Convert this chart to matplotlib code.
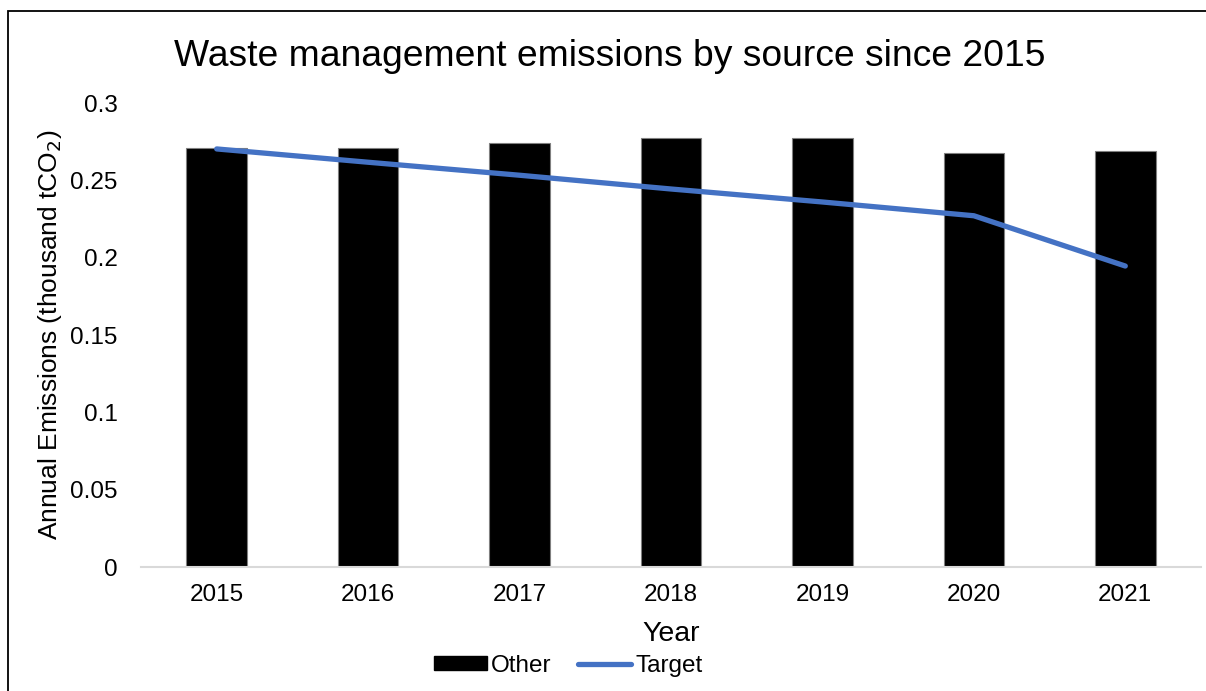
import numpy as np
import matplotlib
matplotlib.use('Agg')
import matplotlib.pyplot as plt
from matplotlib.patches import Rectangle
from matplotlib.lines import Line2D
from matplotlib.patches import Patch

years = ['2015', '2016', '2017', '2018', '2019', '2020', '2021']
other = [0.2707, 0.2711, 0.2741, 0.2772, 0.2772, 0.2675, 0.2688]
target = [0.2703, 0.2617, 0.2533, 0.2444, 0.2360, 0.2271, 0.1946]
yticks = [0, 0.05, 0.1, 0.15, 0.2, 0.25, 0.3]
ytick_labels = ['0', '0.05', '0.1', '0.15', '0.2', '0.25', '0.3']

plt.rcParams['font.family'] = ['Liberation Sans', 'DejaVu Sans']

fig = plt.figure(figsize=(12.06, 6.91), dpi=100)
ax = fig.add_axes([141/1206, 1-567/691, 1060/1206, 464/691])

x = np.arange(len(years))
ax.bar(x, other, width=0.4, color='black', edgecolor='#7f7f7f', linewidth=0.8, zorder=2)
ax.plot(x, target, color='#4472C4', linewidth=3.8, solid_capstyle='round', zorder=3)

ax.set_xlim(-0.5, 6.5)
ax.set_ylim(0, 0.3)
ax.set_xticks(x)
ax.set_xticklabels(years, fontsize=17.5)
ax.set_yticks(yticks)
ax.set_yticklabels(ytick_labels, fontsize=17.5)
ax.tick_params(axis='x', length=0, pad=12)
ax.tick_params(axis='y', length=0, pad=17)
for s in ['top', 'right', 'left']:
    ax.spines[s].set_visible(False)
ax.spines['bottom'].set_color('#d9d9d9')
ax.spines['bottom'].set_linewidth(1.5)

ax.set_xlabel('Year', fontsize=20.5, labelpad=11)
fig.text(50/1206, 1-335/691, 'Annual Emissions (thousand tCO$_2$)', rotation=90,
         fontsize=19, ha='center', va='center')
fig.text(610/1206, 1-56/691, 'Waste management emissions by source since 2015',
         fontsize=26.8, ha='center', va='center')

handles = [Patch(facecolor='black', edgecolor='black'),
           Line2D([0], [0], color='#4472C4', linewidth=3.8, solid_capstyle='round')]
fig.legend(handles, ['Other', 'Target'], loc='center', bbox_to_anchor=(568/1206, 1-666/691),
           ncol=2, frameon=False, fontsize=17.5, handlelength=2.2, handleheight=0.5,
           handletextpad=0.15, columnspacing=1.1, borderpad=0)

fig.add_artist(Rectangle((8/1206, -0.05), 1.2, 1-11/691+0.05, transform=fig.transFigure,
                         fill=False, edgecolor='black', linewidth=1.3))

fig.savefig('out.png', dpi=100)
